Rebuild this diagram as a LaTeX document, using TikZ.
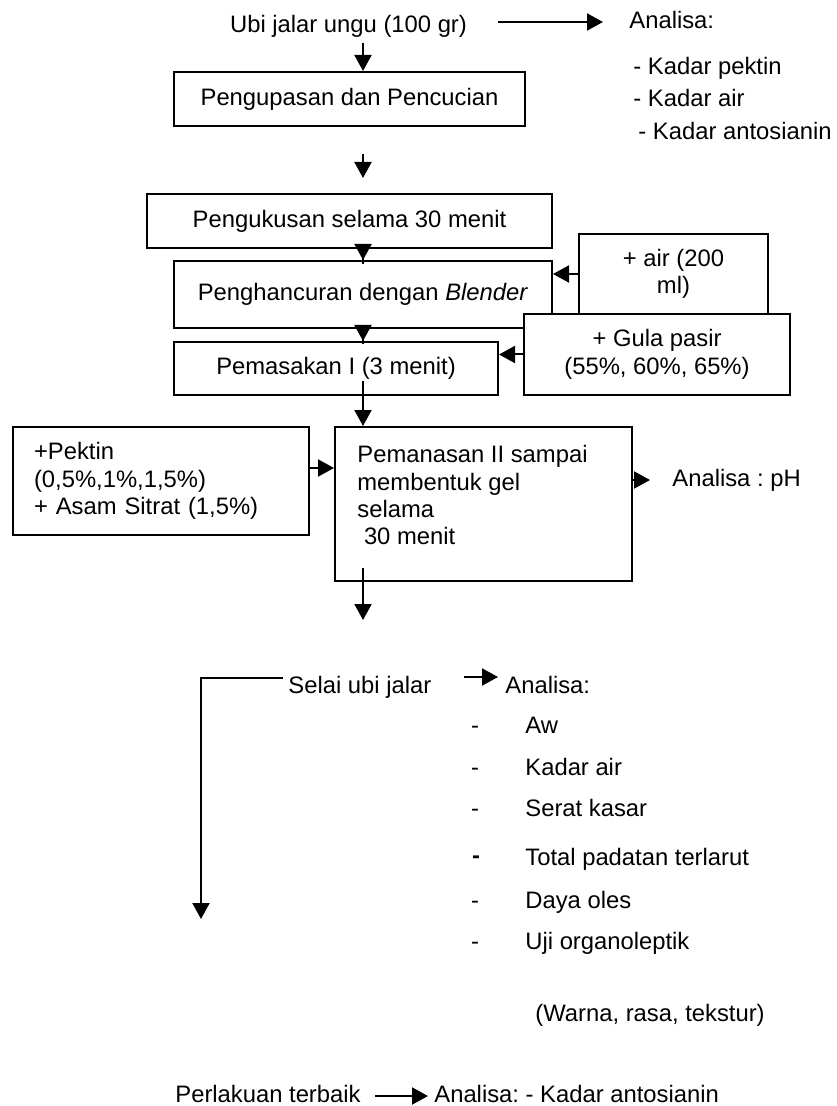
\documentclass[tikz,border=0pt]{standalone}
\usepackage{fontspec}
\setmainfont{Liberation Sans}
\usetikzlibrary{arrows.meta}

\begin{document}
\begin{tikzpicture}[x=0.5pt, y=-0.5pt,
        font=\fontsize{11.9}{13.7}\selectfont\frenchspacing,
        box/.style={draw, line width=1pt, inner sep=0pt, align=center},
        txt/.style={inner sep=0pt, anchor=west, text height=8.6pt, text depth=2.5pt},
        arr/.style={-{Triangle[length=8pt, width=8.5pt]}, line width=1pt}]
            \useasboundingbox (0,0) rectangle (836,1106);
            \coordinate (sumbu) at (363,0);
            \node[txt, anchor=center] (ubi) at (348.5,26) {Ubi jalar ungu (100 gr)};
            \node[txt] (anaUbi) at (629,22) {Analisa:};
            \node[txt] (pektinUbi) at (633,68) {- Kadar pektin};
            \node[txt] (airUbi) at (633,100) {- Kadar air};
            \node[txt] (antoUbi) at (638,133) {- Kadar antosianin};
            \node[box, minimum width=175.5pt, minimum height=27pt] (kupas) at (349.5,99) {Pengupasan dan Pencucian};
            \node[box, minimum width=202.5pt, minimum height=27pt] (kukus) at (349.5,221) {Pengukusan selama 30 menit};
            \node[box, minimum width=189pt, minimum height=33.5pt] (hancur) at (363,294.5) {Penghancuran dengan \textit{Blender}};
            \node[box, minimum width=94.5pt, minimum height=40pt] (air) at (673.5,274) {+ air (200\\ml)};
            \node[box, fill=white, minimum width=133pt, minimum height=40.5pt] (gula) at (657,354.5) {+ Gula pasir\\(55\%, 60\%, 65\%)};
            \node[box, minimum width=162pt, minimum height=26.5pt] (masak) at (336,368.5) {Pemasakan I (3 menit)};
            \node[box, align=left, text width=127pt, inner xsep=10.5pt, minimum height=54pt] (pektin) at (161,481) {+Pektin\\(0,5\%,1\%,1,5\%)\\+ Asam Sitrat (1,5\%)};
            \node[box, minimum width=148.5pt, minimum height=77pt] (panas) at (483.5,504) {};
            \node[inner sep=0pt, anchor=north west, align=left] (panasTeks) at ([shift={(23,19)}]panas.north west) {Pemanasan II sampai\\membentuk gel\\selama\\\hspace*{3.3pt}30 menit};
            \node[txt] (ph) at (672,480) {Analisa : pH};
            \coordinate (selaiMasuk) at (363,620);
            \node[txt] (selai) at (288,687) {Selai ubi jalar};
            \coordinate (turun) at (201,919);
            \node[txt] (anaSelai) at (505,687) {Analisa:};
            \node[txt, anchor=center] (dashAw) at (475,727) {-};
            \node[txt] (aw) at (525,727) {Aw};
            \node[txt, anchor=center] (dashAir) at (475,769) {-};
            \node[txt] (kadarAir) at (525,769) {Kadar air};
            \node[txt, anchor=center] (dashSerat) at (475,810) {-};
            \node[txt] (serat) at (525,810) {Serat kasar};
            \node[txt, anchor=center] (dashTotal) at (476,857) {\textbf{-}};
            \node[txt] (total) at (525,859) {Total padatan terlarut};
            \node[txt, anchor=center] (dashDaya) at (475,902) {-};
            \node[txt] (daya) at (525,902) {Daya oles};
            \node[txt, anchor=center] (dashUji) at (475,943) {-};
            \node[txt] (uji) at (525,943) {Uji organoleptik};
            \node[txt] (organo) at (535,1015) {(Warna, rasa, tekstur)};
            \node[txt] (terbaik) at (175,1096) {Perlakuan terbaik};
            \node[txt] (anaTerbaik) at (434,1096) {Analisa: - Kadar antosianin};
            \draw[arr, shorten <=15.5pt, shorten >=13pt] (ubi.east |- anaUbi.west) -- (anaUbi.west);
            \draw[arr, shorten <=3pt] (ubi.south -| sumbu) -- (kupas.north -| sumbu);
            \draw[arr, shorten <=13.5pt, shorten >=7.5pt] (kupas.south -| sumbu) -- (kukus.north -| sumbu);
            \draw[arr, shorten <=-7.5pt] (kukus.south -| sumbu) -- (hancur.north -| sumbu);
            \draw[arr, shorten <=-7.5pt] (hancur.south -| sumbu) -- (masak.north -| sumbu);
            \draw[arr, shorten <=-7.5pt] (masak.south -| sumbu) -- (panas.north -| sumbu);
            \draw[arr] (air.west) -- (air.west -| hancur.east);
            \draw[arr] (gula.west) -- (gula.west -| masak.east);
            \draw[arr] ([yshift=6.5pt]pektin.east) -- ([yshift=6.5pt]pektin.east -| panas.west);
            \draw[arr, shorten >=11pt] (panas.east |- ph.west) -- (ph.west);
            \draw[arr, shorten <=-7pt] (panas.south -| sumbu) -- (selaiMasuk);
            \draw[arr] ([shift={(-5,-9)}]selai.west) -| (turun);
            \draw[arr, shorten <=16pt, shorten >=3.5pt] ([yshift=5pt]selai.east) -- ([yshift=5pt]anaSelai.west);
            \draw[arr, shorten <=7pt, shorten >=3pt] (terbaik) -- (anaTerbaik);
\end{tikzpicture}
\end{document}
